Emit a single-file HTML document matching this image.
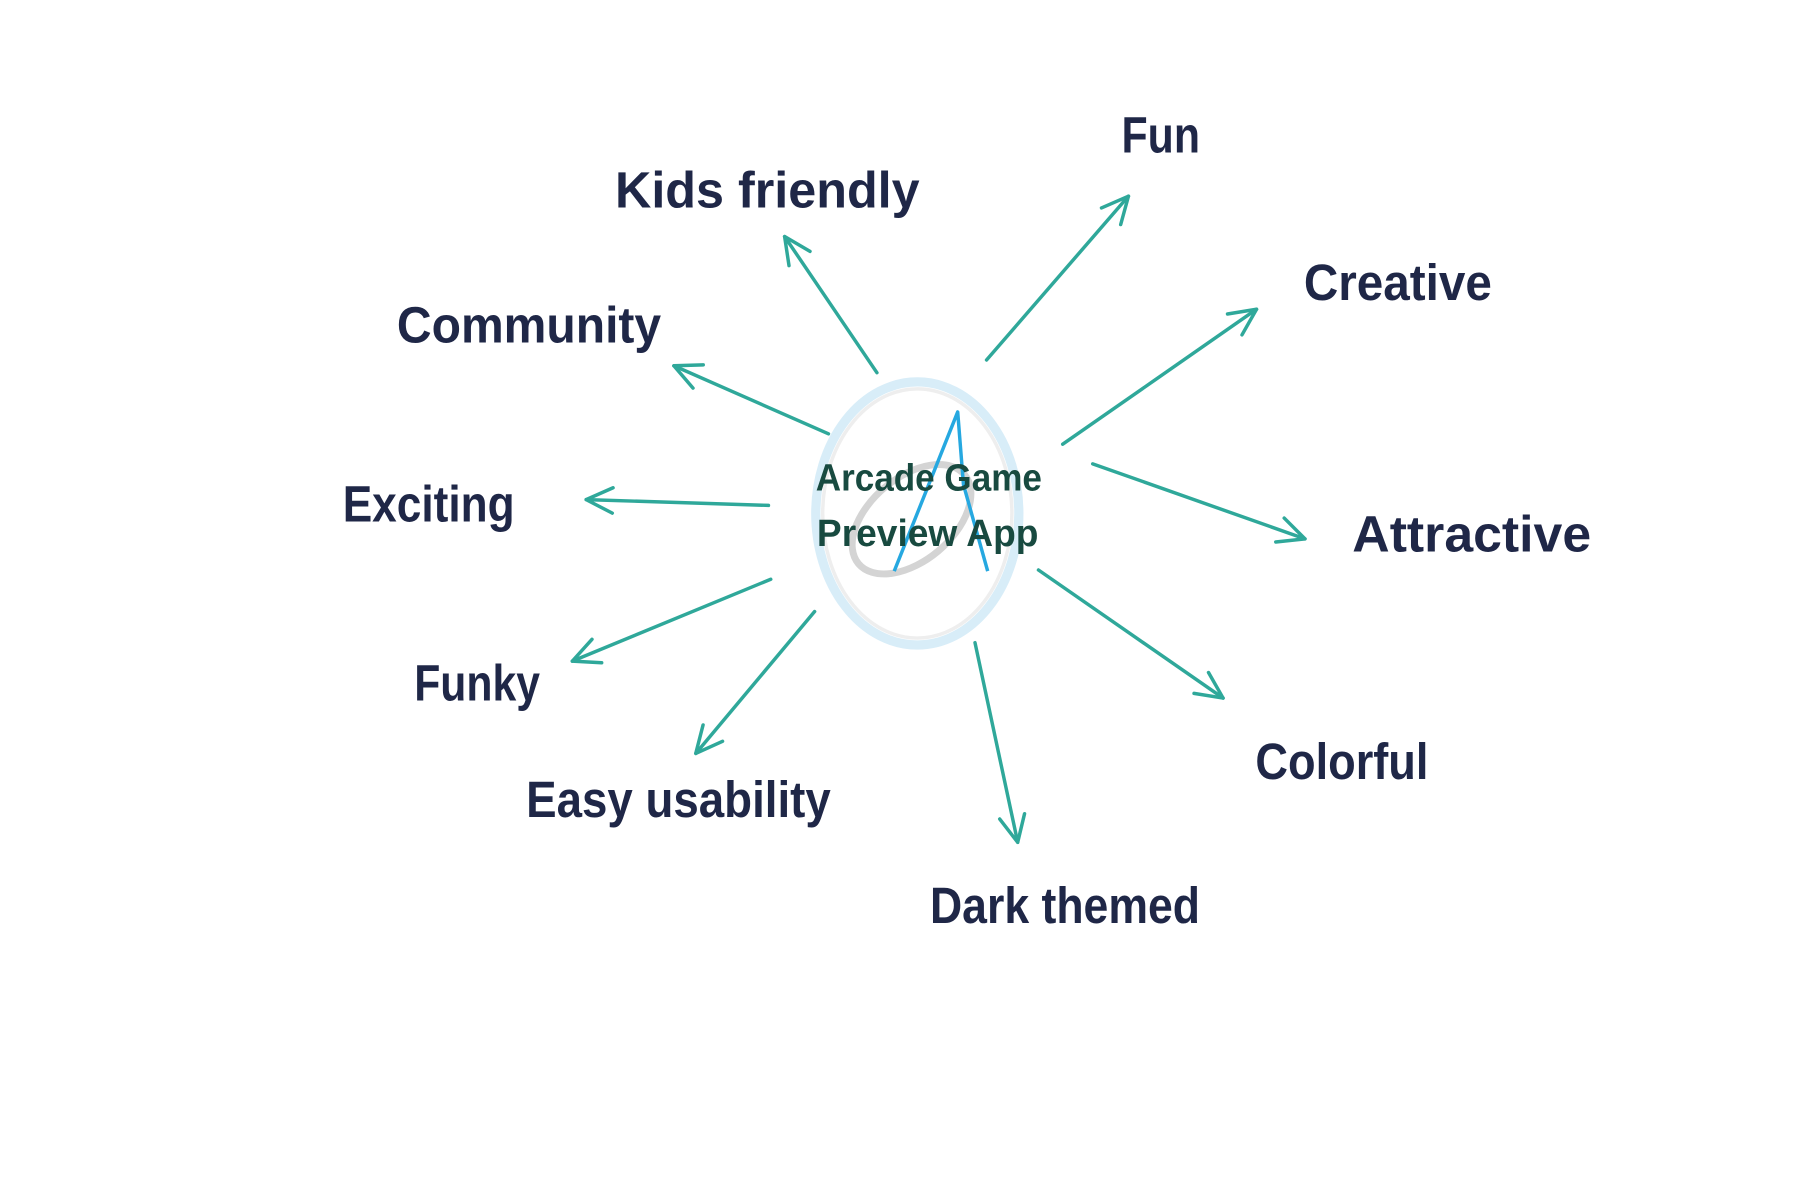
<!DOCTYPE html>
<html><head><meta charset="utf-8"><style>
html,body{margin:0;padding:0;background:#fff;width:1800px;height:1200px;overflow:hidden}
svg{display:block}
.t{font-family:"Liberation Sans",sans-serif;font-weight:bold;fill:#1f2747;font-size:44px}
.c{font-family:"Liberation Sans",sans-serif;font-weight:bold;fill:#184a40;font-size:33px}
.a{stroke:#2fa89a;stroke-width:3;fill:none;stroke-linecap:round;stroke-linejoin:round}
</style></head><body>
<svg width="1800" height="1200" viewBox="0 0 1560 1040" xmlns="http://www.w3.org/2000/svg">
<defs>
<marker id="m" viewBox="0 0 30 30" refX="28" refY="15" markerWidth="30" markerHeight="30" markerUnits="userSpaceOnUse" orient="auto">
<path d="M5,4 L28,15 L5,26" stroke="#2fa89a" stroke-width="3" fill="none" stroke-linecap="round" stroke-linejoin="round"/>
</marker>
</defs>
<g>
<ellipse cx="795" cy="445" rx="88" ry="114" fill="none" stroke="#d8edf8" stroke-width="8"/>
<ellipse cx="795" cy="445" rx="82" ry="108" fill="none" stroke="#eeeeee" stroke-width="3"/>
<ellipse cx="790" cy="450" rx="60" ry="36" transform="rotate(-40 790 450)" fill="none" stroke="#d4d4d4" stroke-width="6"/>
<path d="M775,495 L830,357 L835,420 L856,495" fill="none" stroke="#26a8e0" stroke-width="3" stroke-linejoin="round"/>
</g>
<g class="a">
<line x1="760" y1="323" x2="680" y2="205" marker-end="url(#m)"/>
<line x1="855" y1="312" x2="978" y2="170" marker-end="url(#m)"/>
<line x1="921" y1="385" x2="1089" y2="268" marker-end="url(#m)"/>
<line x1="718" y1="376" x2="584" y2="317" marker-end="url(#m)"/>
<line x1="947" y1="402" x2="1131" y2="467" marker-end="url(#m)"/>
<line x1="666" y1="438" x2="508" y2="433" marker-end="url(#m)"/>
<line x1="668" y1="502" x2="496" y2="573" marker-end="url(#m)"/>
<line x1="900" y1="494" x2="1060" y2="605" marker-end="url(#m)"/>
<line x1="706" y1="530" x2="603" y2="653" marker-end="url(#m)"/>
<line x1="845" y1="557" x2="882" y2="730" marker-end="url(#m)"/>
</g>
<text class="t" x="972" y="132" textLength="68" lengthAdjust="spacingAndGlyphs">Fun</text>
<text class="t" x="533" y="180" textLength="264" lengthAdjust="spacingAndGlyphs">Kids friendly</text>
<text class="t" x="1130" y="260" textLength="163" lengthAdjust="spacingAndGlyphs">Creative</text>
<text class="t" x="344" y="297" textLength="229" lengthAdjust="spacingAndGlyphs">Community</text>
<text class="t" x="297" y="452" textLength="149" lengthAdjust="spacingAndGlyphs">Exciting</text>
<text class="t" x="1172" y="478" textLength="207" lengthAdjust="spacingAndGlyphs">Attractive</text>
<text class="t" x="359" y="607" textLength="109" lengthAdjust="spacingAndGlyphs">Funky</text>
<text class="t" x="1088" y="675" textLength="150" lengthAdjust="spacingAndGlyphs">Colorful</text>
<text class="t" x="456" y="708" textLength="264" lengthAdjust="spacingAndGlyphs">Easy usability</text>
<text class="t" x="806" y="800" textLength="234" lengthAdjust="spacingAndGlyphs">Dark themed</text>
<text class="c" x="707" y="425" textLength="196" lengthAdjust="spacingAndGlyphs">Arcade Game</text>
<text class="c" x="708" y="473" textLength="192" lengthAdjust="spacingAndGlyphs">Preview App</text>
</svg>
</body></html>
